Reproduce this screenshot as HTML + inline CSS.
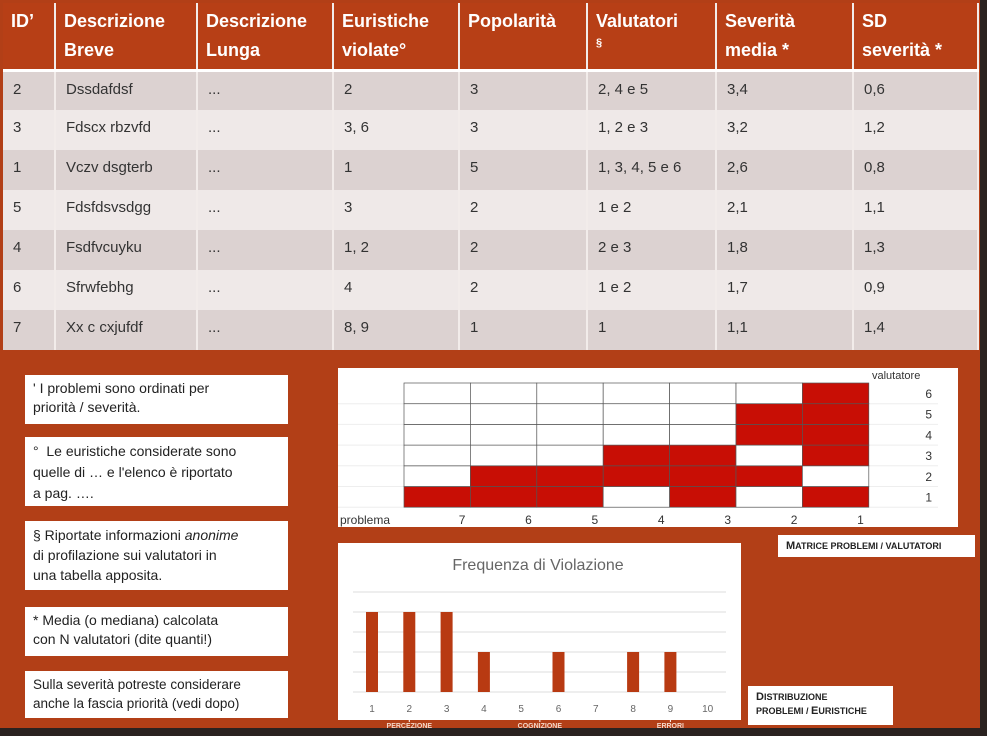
<!DOCTYPE html>
<html><head><meta charset="utf-8">
<style>
*{margin:0;padding:0;box-sizing:border-box}
body{width:987px;height:736px;overflow:hidden;background:#2a2220;font-family:"Liberation Sans",sans-serif;position:relative}
#slide{position:absolute;left:0;top:0;width:980px;height:728px;background:#b23f17}
table{position:absolute;left:3px;top:3px;border-collapse:collapse;width:975px;table-layout:fixed}
th,td{border-right:2px solid #f2ecea;text-align:left;vertical-align:top;white-space:nowrap}
th{background:#b73f16;color:#fff;font-weight:bold;font-size:18px;line-height:29px;height:67px;padding:4px 8px 0 8px;border-bottom:3px solid #fff}
td{height:40px;font-size:15px;color:#333;padding:9px 8px 0 10px}
tr.d td{background:#dcd2d1}
tr.l td{background:#efe9e8}
.note{position:absolute;left:25px;width:263px;background:#fff;font-size:14px;line-height:19px;color:#222;padding:4px 8px;white-space:nowrap}
.cap{position:absolute;background:#fff;font-size:9px;font-weight:bold;color:#222;font-variant:small-caps;padding:4px 8px;line-height:14px}
.cap b{font-size:11px}
</style></head><body>
<div id="slide">
<table>
<colgroup><col style="width:52px"><col style="width:142px"><col style="width:136px"><col style="width:126px"><col style="width:128px"><col style="width:129px"><col style="width:137px"><col style="width:125px"></colgroup>
<tr><th>ID’</th><th>Descrizione<br>Breve</th><th>Descrizione<br>Lunga</th><th>Euristiche<br>violate°</th><th>Popolarità</th><th>Valutatori<br><span style="font-size:11px;vertical-align:top;line-height:14px">§</span></th><th>Severità<br>media *</th><th>SD<br>severità *</th></tr>
<tr class="d"><td>2</td><td>Dssdafdsf</td><td>...</td><td>2</td><td>3</td><td>2, 4 e 5</td><td>3,4</td><td>0,6</td></tr>
<tr class="l"><td>3</td><td>Fdscx rbzvfd</td><td>...</td><td>3, 6</td><td>3</td><td>1, 2 e 3</td><td>3,2</td><td>1,2</td></tr>
<tr class="d"><td>1</td><td>Vczv dsgterb</td><td>...</td><td>1</td><td>5</td><td>1, 3, 4, 5 e 6</td><td>2,6</td><td>0,8</td></tr>
<tr class="l"><td>5</td><td>Fdsfdsvsdgg</td><td>...</td><td>3</td><td>2</td><td>1 e 2</td><td>2,1</td><td>1,1</td></tr>
<tr class="d"><td>4</td><td>Fsdfvcuyku</td><td>...</td><td>1, 2</td><td>2</td><td>2 e 3</td><td>1,8</td><td>1,3</td></tr>
<tr class="l"><td>6</td><td>Sfrwfebhg</td><td>...</td><td>4</td><td>2</td><td>1 e 2</td><td>1,7</td><td>0,9</td></tr>
<tr class="d"><td>7</td><td>Xx c cxjufdf</td><td>...</td><td>8, 9</td><td>1</td><td>1</td><td>1,1</td><td>1,4</td></tr>
</table>

<div class="note" style="top:375px;height:49px">' I problemi sono ordinati per<br>priorità / severità.</div>
<div class="note" style="top:437px;height:69px;line-height:21px">°&nbsp; Le euristiche considerate sono<br>quelle di … e l'elenco è riportato<br>a pag. ….</div>
<div class="note" style="top:521px;height:69px;line-height:20px">§ Riportate informazioni <i>anonime</i><br>di profilazione sui valutatori in<br>una tabella apposita.</div>
<div class="note" style="top:607px;height:49px">* Media (o mediana) calcolata<br>con N valutatori (dite quanti!)</div>
<div class="note" style="top:671px;height:47px;font-size:13.5px">Sulla severità potreste considerare<br>anche la fascia priorità (vedi dopo)</div>

<svg id="matrix" style="position:absolute;left:338px;top:368px" width="620" height="159"></svg>
<div class="cap" style="left:778px;top:535px;width:197px;height:22px"><b>M</b>ATRICE PROBLEMI / VALUTATORI</div>

<svg id="bars" style="position:absolute;left:338px;top:543px" width="403" height="177"></svg>
<div id="groups" style="position:absolute;left:338px;top:712px;width:420px;height:16px"></div>
<div class="cap" style="left:748px;top:686px;width:145px;height:39px"><b>D</b>ISTRIBUZIONE<br>PROBLEMI / <b>E</b>URISTICHE</div>
</div>
<script>
const problems=[7,6,5,4,3,2,1];
const evaluators=[1,2,3,4,5,6];
const assignments=[[1],[1,2],[1,2],[2,3],[1,2,3],[2,4,5],[1,3,4,5,6]];
const heuristics=[1,2,3,4,5,6,7,8,9,10];
const violations=[2,2,2,1,0,1,0,1,1,0];
const yTicks=[0,0.5,1,1.5,2,2.5];
const groupNames=["PERCEZIONE","COGNIZIONE","ERRORI"];
const groupSpans=[[1,3],[4,7],[8,10]];
const NS="http://www.w3.org/2000/svg";
function mk(p,t,a){const e=document.createElementNS(NS,t);for(const k in a)e.setAttribute(k,a[k]);p.appendChild(e);return e;}
// matrix
(function(){
const s=document.getElementById('matrix');
mk(s,'rect',{x:0,y:0,width:620,height:159,fill:'#fff'});
const x0=66,cw=66.4,y0=15,rh=20.7;
const cx=i=>x0+i*cw, ry=v=>y0+(evaluators.length-v)*rh;
evaluators.forEach(v=>{mk(s,'line',{x1:0,x2:600,y1:ry(v)+rh,y2:ry(v)+rh,stroke:'#eee'});});
problems.forEach((p,i)=>{evaluators.forEach(v=>{
const on=assignments[i].includes(v);
const r=mk(s,'rect',{x:cx(i),y:ry(v),width:cw,height:rh,fill:on?'#c80e05':'#fff',stroke:'#555','stroke-width':0.7});


});
const t=mk(s,'text',{x:cx(i)+cw-5,y:156,'text-anchor':'end','font-size':12,fill:'#333'});t.textContent=p;


});
evaluators.forEach(v=>{const t=mk(s,'text',{x:594,y:ry(v)+15,'text-anchor':'end','font-size':12,fill:'#333'});t.textContent=v;

});
let t=mk(s,'text',{x:2,y:156,'font-size':12,fill:'#333'});t.textContent='problema';


t=mk(s,'text',{x:534,y:11,'font-size':11,fill:'#333'});t.textContent='valutatore';


})();
// bar chart
(function(){
const s=document.getElementById('bars');
mk(s,'rect',{x:0,y:0,width:403,height:177,fill:'#fff'});
const tt=mk(s,'text',{x:200,y:27,'text-anchor':'middle','font-size':16,fill:'#666'});tt.textContent='Frequenza di Violazione';


const base=149, y=v=>base-v*40;
const x=i=>34+i*37.3;
yTicks.forEach(v=>{const l=mk(s,'line',{x1:15,x2:388,y1:y(v),y2:y(v),stroke:'#ddd'});

});
heuristics.forEach((h,i)=>{
if(violations[i]>0){const r=mk(s,'rect',{x:x(i)-6,y:y(violations[i]),width:12,height:violations[i]*40,fill:'#b83a12'});

}
const t=mk(s,'text',{x:x(i),y:169,'text-anchor':'middle','font-size':10,fill:'#666'});t.textContent=h;


});
})();
// group braces
(function(){
const g=document.getElementById('groups');
const x=i=>34+i*37.3;
let h='<svg width="420" height="16" style="position:absolute;left:0;top:0">';
groupSpans.forEach((sp,k)=>{const a=x(sp[0]-1)-18,b=x(sp[1]-1)+18,m=(a+b)/2;
h+=`<path d="M${a} 0 v5 H${b} v-5 M${m} 5 v5" stroke="#fff" fill="none" stroke-width="1"/>`;
h+=`<text x="${m}" y="16" text-anchor="middle" font-size="7" font-weight="bold" fill="#f3d6c8">${groupNames[k]}</text>`;});
h+='</svg>';g.innerHTML=h;


})();
</script>
</body></html>
